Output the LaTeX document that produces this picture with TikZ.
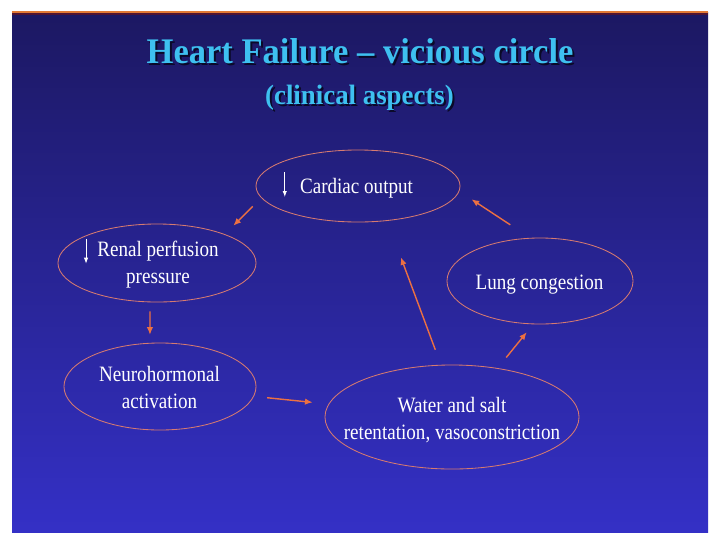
\documentclass[tikz,border=0pt]{standalone}
\usepackage{fontspec}
\setmainfont{Liberation Serif}[FakeStretch=0.87]
\newfontfamily\hftitlefont{Liberation Serif}[FakeStretch=0.96,Ligatures=TeX]
\usepackage{tikz}
\usetikzlibrary{arrows.meta,positioning,calc,shapes.geometric}
\definecolor{hftop}{RGB}{28,24,98}
\definecolor{hfbot}{RGB}{52,48,198}
\definecolor{hfline}{RGB}{226,122,52}
\definecolor{hfrim}{RGB}{80,20,50}
\definecolor{hfoval}{RGB}{214,122,112}
\definecolor{hfarr}{RGB}{236,112,66}
\definecolor{hftitle}{RGB}{62,192,240}
\definecolor{hfshade}{RGB}{10,10,40}
\tikzset{
  oval/.style={ellipse, draw=hfoval, line width=0.6pt, inner sep=0pt},
  lbl/.style={text=white, align=center, inner sep=0pt,
    font=\fontsize{15.6}{19}\selectfont},
  ttl/.style={inner sep=0pt, font=\hftitlefont\bfseries\fontsize{25.6}{30}\selectfont},
  subttl/.style={inner sep=0pt, font=\hftitlefont\bfseries\fontsize{19.9}{24}\selectfont},
  arr/.style={-{Latex[length=1.9mm,width=1.6mm]}, draw=hfarr, line width=1pt},
  dn/.style={-{Latex[length=1.5mm,width=1.1mm]}, draw=white, line width=0.6pt}
}
\begin{document}
\begin{tikzpicture}[x=0.025cm,y=-0.025cm]
  \useasboundingbox (0,0) rectangle (720,540);
  % slide
  \fill[white] (0,0) rectangle (720,540);
  \shade[top color=hftop, bottom color=hfbot] (12,12) rectangle (708,532);
  \draw[hfrim, line width=0.8pt] (12,14) -- (708,14);
  \draw[hfline, line width=1.2pt] (12,12.3) -- (708,12.3);

  % title
  \node[ttl, text=hfshade, anchor=base] (titleS) at (362,65) {Heart Failure – vicious circle};
  \node[ttl, text=hftitle, anchor=base] (title) at (360,63) {Heart Failure – vicious circle};
  \node[subttl, text=hfshade, anchor=base] (subS) at (361.5,106) {(clinical aspects)};
  \node[subttl, text=hftitle, anchor=base] (sub) at (359.5,104) {(clinical aspects)};

  % the five stages
  \node[oval, minimum width=5.1cm, minimum height=1.8cm] (co) at (358,186) {};
  \node[oval, minimum width=4.95cm, minimum height=1.95cm] (rp) at (157,263) {};
  \node[oval, minimum width=4.65cm, minimum height=2.15cm] (lc) at (540,281) {};
  \node[oval, minimum width=4.8cm, minimum height=2.175cm] (nh) at (160,386.5) {};
  \node[oval, minimum width=6.35cm, minimum height=2.6cm] (ws) at (452,417) {};

  \node[lbl, anchor=base] (coT) at (356.5,193) {Cardiac output};
  \node[lbl] (rpT) at (158,264.4) {Renal perfusion\\pressure};
  \node[lbl, anchor=base] (lcT) at (539.5,289) {Lung congestion};
  \node[lbl] (nhT) at (159.5,387.5) {Neurohormonal\\activation};
  \node[lbl] (wsT) at (452,420) {Water and salt\\retentation, vasoconstriction};

  \draw[dn] ($(coT.base west)+(-15,-21)$) -- ++(0,25);
  \draw[dn] ($(rpT.north west)+(-11,-2)$) -- ++(0,25);

  % the circle
  \draw[arr, shorten <=0.3cm, shorten >=0.3cm] (co.187.5) -- (rp.23.2);
  \draw[arr, shorten <=0.225cm, shorten >=0.2cm] (rp.260) -- (nh.103);
  \draw[arr, shorten <=0.33cm, shorten >=0.4cm] (nh.354.8) -- (ws.174.9);
  \draw[arr, shorten <=0.34cm, shorten >=0.255cm] (ws.47.8) -- (lc.261.5);
  \draw[arr, shorten <=0.4cm, shorten >=0.97cm] (ws.102.5) -- (co.310.7);
  \draw[arr, shorten <=0.59cm, shorten >=0.365cm] (lc.103.8) -- (co.357.2);
\end{tikzpicture}
\end{document}
